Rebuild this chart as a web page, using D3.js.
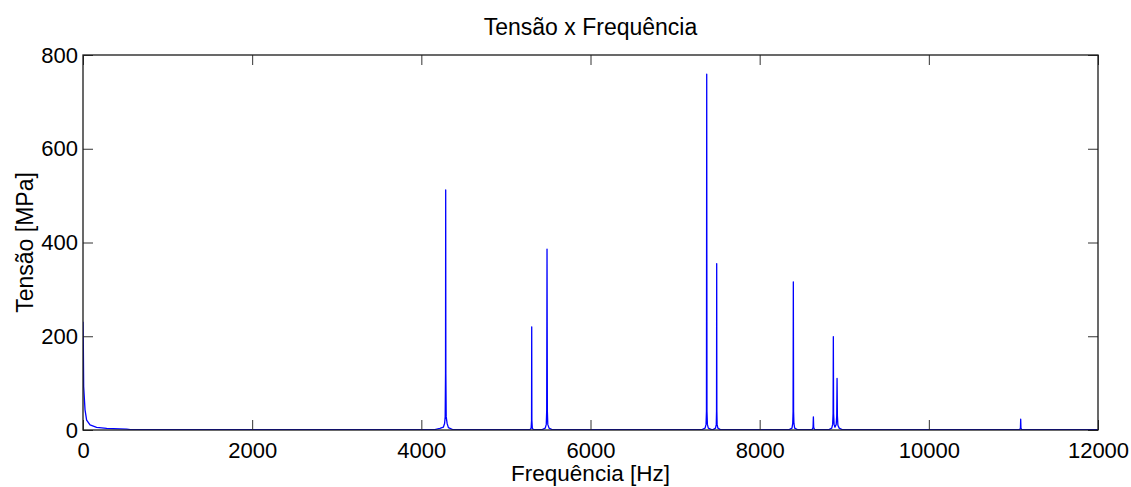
<!DOCTYPE html>
<html lang="en">
<head>
<meta charset="UTF-8">
<title>Tensão x Frequência</title>
<script src="https://cdnjs.cloudflare.com/ajax/libs/d3/7.8.5/d3.min.js"></script>
<style>
    body { margin: 0; background: #fff; }
    svg { display: block; font-family: "Liberation Sans", Arial, Helvetica, sans-serif; }
</style>
</head>
<body>
<svg id="chart" width="1131" height="487"></svg>
<script>
    // spectrum: frequency [Hz] and stress [MPa]
    const freqHz = [
        0, 4, 8, 24, 43, 83, 161, 280, 517, 560,
        4160, 4220, 4260, 4275, 4282, 4286, 4288, 4290, 4294, 4305, 4320, 4370,
        5285, 5298, 5303, 5305, 5307, 5312, 5325,
        5430, 5465, 5477, 5482, 5486, 5490, 5495, 5510, 5545,
        7320, 7355, 7366, 7371, 7374, 7377, 7382, 7393, 7430,
        7450, 7478, 7487, 7490, 7492, 7494, 7497, 7506, 7535,
        8350, 8382, 8391, 8395, 8398, 8401, 8405, 8414, 8445,
        8620, 8631, 8635, 8639, 8650,
        8820, 8852, 8863, 8868, 8871, 8874, 8880, 8890, 8905, 8911, 8915, 8919, 8925, 8940, 8975,
        11075, 11083, 11086, 11089, 11097,
        12000
    ];
    const tensionMPa = [
        231, 180, 92, 43, 21, 10.7, 5.7, 3.6, 2, 1,
        1, 3.5, 6, 14, 28, 120, 512, 120, 28, 14, 5, 1,
        1, 4, 20, 220, 20, 4, 1,
        1, 4, 12, 40, 386, 40, 12, 4, 1,
        1, 4, 12, 40, 759, 40, 12, 4, 1,
        1, 4, 12, 40, 355, 40, 12, 4, 1,
        1, 4, 14, 40, 316, 40, 14, 4, 1,
        1, 5, 28, 5, 1,
        1, 4, 12, 35, 199, 35, 12, 6, 12, 30, 110, 30, 10, 4, 1,
        1, 4, 23, 4, 1,
        1
    ];
    const xTicks = [0, 2000, 4000, 6000, 8000, 10000, 12000];
    const yTicks = [0, 200, 400, 600, 800];

    const svg = d3.select("#chart");
    const margin = { left: 83, right: 33, top: 55, bottom: 57 };
    const width = 1131 - margin.left - margin.right;
    const height = 487 - margin.top - margin.bottom;
    const tickLen = 10;

    const x = d3.scaleLinear().domain([0, 12000]).range([0, width]);
    const y = d3.scaleLinear().domain([0, 800]).range([height, 0]);

    const g = svg.append("g").attr("transform", `translate(${margin.left},${margin.top})`);

    g.append("clipPath").attr("id", "plotClip")
        .append("rect").attr("width", width).attr("height", height);

    const points = freqHz.map((f, i) => [f, tensionMPa[i]]);
    const line = d3.line().x(d => x(d[0])).y(d => y(d[1]));

    g.append("path")
        .datum(points)
        .attr("clip-path", "url(#plotClip)")
        .attr("fill", "none")
        .attr("stroke", "#0000ff")
        .attr("stroke-width", 1.3)
        .attr("stroke-linejoin", "round")
        .attr("d", line);

    // inward ticks on all four sides (matlab style)
    const fmt = d3.format("d");
    const axisBottom = d3.axisBottom(x).tickValues(xTicks).tickFormat(fmt).tickSizeInner(-tickLen).tickSizeOuter(0).tickPadding(12);
    const axisTop = d3.axisTop(x).tickValues(xTicks).tickSizeInner(-tickLen).tickSizeOuter(0).tickFormat("");
    const axisLeft = d3.axisLeft(y).tickValues(yTicks).tickFormat(fmt).tickSizeInner(-tickLen).tickSizeOuter(0).tickPadding(5);
    const axisRight = d3.axisRight(y).tickValues(yTicks).tickSizeInner(-tickLen).tickSizeOuter(0).tickFormat("");

    function styleAxis(sel) {
        sel.select(".domain").remove();
        sel.selectAll(".tick line").attr("stroke", "#333").attr("stroke-width", 1);
        sel.selectAll(".tick text").attr("fill", "#000").attr("font-size", 22).attr("font-family", null);
    }

    g.append("g").attr("transform", `translate(0,${height})`).call(axisBottom).call(styleAxis);
    g.append("g").call(axisTop).call(styleAxis);
    g.append("g").call(axisLeft).call(styleAxis);
    g.append("g").attr("transform", `translate(${width},0)`).call(axisRight).call(styleAxis);

    g.append("rect")
        .attr("width", width).attr("height", height)
        .attr("fill", "none").attr("stroke", "#1a1a1a").attr("stroke-width", 1.3);

    svg.append("text")
        .attr("x", margin.left + width / 2).attr("y", 35)
        .attr("text-anchor", "middle").attr("font-size", 23)
        .text("Tensão x Frequência");

    svg.append("text")
        .attr("x", margin.left + width / 2).attr("y", 481)
        .attr("text-anchor", "middle").attr("font-size", 22.5)
        .text("Frequência [Hz]");

    svg.append("text")
        .attr("transform", `translate(33,${margin.top + height / 2}) rotate(-90)`)
        .attr("text-anchor", "middle").attr("font-size", 23)
        .text("Tensão [MPa]");
</script>
</body>
</html>
